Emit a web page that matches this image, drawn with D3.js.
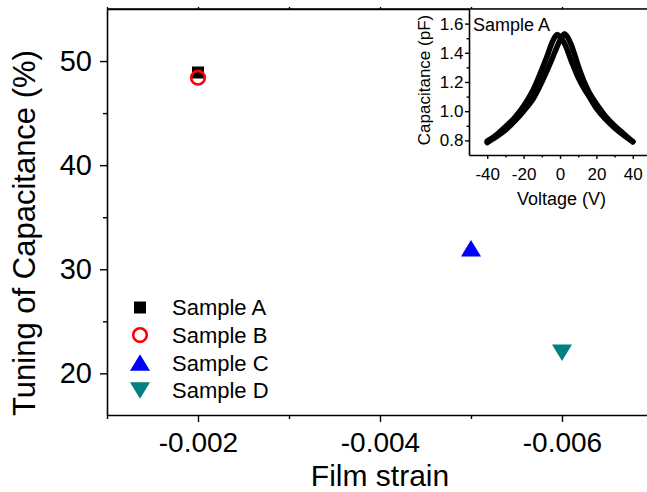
<!DOCTYPE html>
<html>
<head>
<meta charset="utf-8">
<script src="https://cdn.jsdelivr.net/npm/d3@7"></script>
<style>
  html, body { margin: 0; padding: 0; background: #ffffff; }
  svg { display: block; font-family: "Liberation Sans", Arial, sans-serif; }
</style>
</head>
<body>
<svg id="chart" width="647" height="492"></svg>
<script>
// ---- main data: tuning of capacitance vs film strain ----
const samples = ["Sample A", "Sample B", "Sample C", "Sample D"];
const strain  = [-0.002, -0.002, -0.005, -0.006];
const tuning  = [48.9, 48.4, 32.0, 22.0];
const colors  = ["#000000", "#ff0000", "#0000ff", "#008080"];
const shapes  = ["square", "circle", "triangleUp", "triangleDown"];

const strainTicks = [-0.002, -0.004, -0.006];
const strainMinor = [-0.001, -0.003, -0.005, -0.007];
const tuningTicks = [20, 30, 40, 50];
const tuningMinor = [25, 35, 45];

// ---- inset data: C-V sweeps of Sample A ----
const sweepUpV = [-40, -35, -30, -25, -20, -15, -10, -7, -5, -3, -1.5, 0, 2, 4, 6, 8, 10, 13, 16, 20, 25, 30, 35, 40];
const sweepUpC = [0.795, 0.838, 0.893, 0.955, 1.035, 1.14, 1.285, 1.38, 1.45, 1.505, 1.525, 1.51, 1.475, 1.42, 1.35, 1.29, 1.23, 1.16, 1.10, 1.02, 0.945, 0.885, 0.835, 0.792];
const sweepDnV = [-40, -35, -30, -25, -20, -15, -10, -6, -3, -1, 1, 2.5, 4, 6, 8, 10, 13, 16, 20, 25, 30, 35, 40];
const sweepDnC = [0.785, 0.825, 0.87, 0.93, 1.0, 1.08, 1.2, 1.31, 1.40, 1.46, 1.51, 1.53, 1.51, 1.46, 1.39, 1.31, 1.21, 1.13, 1.05, 0.965, 0.90, 0.845, 0.79];
const voltTicks = [-40, -20, 0, 20, 40];
const voltMinor = [-30, -10, 10, 30];
const capTicks  = [0.8, 1.0, 1.2, 1.4, 1.6];
const capMinor  = [0.9, 1.1, 1.3, 1.5];

const svg = d3.select("#chart");

// ---- main plot geometry ----
const L = 107, T = 9, R = 653, B = 415;
const x = d3.scaleLinear().domain([-0.001, -0.007]).range([L, R]);
const y = d3.scaleLinear().domain([16, 55]).range([B, T]);

function styleAxis(g, fontSize) {
  g.selectAll(".domain").attr("stroke", "#000").attr("stroke-width", 1.6);
  g.selectAll(".tick line").attr("stroke", "#000").attr("stroke-width", 1.4);
  g.selectAll("text").attr("fill", "#000").style("font-size", fontSize + "px")
    .style("font-family", "'Liberation Sans', Arial, sans-serif");
}

// bottom axis
const xAxisG = svg.append("g").attr("transform", `translate(0,${B})`)
  .call(d3.axisBottom(x).tickValues(strainTicks).tickSize(7).tickSizeOuter(0)
    .tickPadding(10).tickFormat(d => d.toFixed(3)));
styleAxis(xAxisG, 28);
const xMinorG = svg.append("g").attr("transform", `translate(0,${B})`)
  .call(d3.axisBottom(x).tickValues(strainMinor).tickSize(4).tickSizeOuter(0).tickFormat(""));
styleAxis(xMinorG, 28);
xMinorG.select(".domain").remove();

// top border with small outward ticks
const xTopG = svg.append("g").attr("transform", `translate(0,${T})`)
  .call(d3.axisTop(x).tickValues(strainTicks.concat(strainMinor)).tickSize(2).tickSizeOuter(0).tickFormat(""));
styleAxis(xTopG, 28);

// left axis
const yAxisG = svg.append("g").attr("transform", `translate(${L},0)`)
  .call(d3.axisLeft(y).tickValues(tuningTicks).tickSize(7).tickSizeOuter(0)
    .tickPadding(8).tickFormat(d3.format("d")));
styleAxis(yAxisG, 29);
const yMinorG = svg.append("g").attr("transform", `translate(${L},0)`)
  .call(d3.axisLeft(y).tickValues(tuningMinor).tickSize(4).tickSizeOuter(0).tickFormat(""));
styleAxis(yMinorG, 29);
yMinorG.select(".domain").remove();

// axis titles
svg.append("text")
  .attr("x", (L + R) / 2).attr("y", 485.5)
  .attr("text-anchor", "middle")
  .style("font-size", "30px").attr("fill", "#000")
  .text("Film strain");
svg.append("text")
  .attr("transform", "translate(35,233) rotate(-90)")
  .attr("text-anchor", "middle")
  .style("font-size", "31px").attr("fill", "#000")
  .text("Tuning of Capacitance (%)");

// ---- marker shapes ----
function markerPath(shape) {
  if (shape === "square") return "M-6,-6H6V6H-6Z";
  if (shape === "triangleUp") return "M0,-8.5L10,8L-10,8Z";
  if (shape === "triangleDown") return "M0,8.5L10,-8L-10,-8Z";
  return null;
}
function drawMarker(g, shape, color) {
  if (shape === "circle") {
    g.append("circle").attr("r", 6.8).attr("fill", "none")
      .attr("stroke", color).attr("stroke-width", 2.6);
  } else {
    g.append("path").attr("d", markerPath(shape)).attr("fill", color);
  }
}

// data points
samples.forEach((s, i) => {
  const g = svg.append("g").attr("transform", `translate(${x(strain[i])},${y(tuning[i])})`);
  drawMarker(g, shapes[i], colors[i]);
});

// legend
const legendX = 140, legendY = 307.5, legendStep = 27.6;
samples.forEach((s, i) => {
  const g = svg.append("g").attr("transform", `translate(${legendX},${legendY + i * legendStep})`);
  drawMarker(g, shapes[i], colors[i]);
  g.append("text").attr("x", 32).attr("dy", "0.36em")
    .style("font-size", "22px").attr("fill", "#000").text(s);
});

// ---- inset: C-V curve ----
const iL = 469, iT = 9, iR = 651, iB = 155;
const xi = d3.scaleLinear().domain([-50, 50]).range([iL, iR]);
const yi = d3.scaleLinear().domain([0.7, 1.7]).range([iB, iT]);

svg.append("rect").attr("x", iL).attr("y", iT).attr("width", iR - iL).attr("height", iB - iT)
  .attr("fill", "#fff");

const line = d3.line().x(d => xi(d[0])).y(d => yi(d[1])).curve(d3.curveCatmullRom.alpha(0.5));
const inset = svg.append("g");
[[sweepUpV, sweepUpC], [sweepDnV, sweepDnC]].forEach(([vs, cs]) => {
  inset.append("path")
    .attr("d", line(vs.map((v, k) => [v, cs[k]])))
    .attr("fill", "none").attr("stroke", "#000")
    .attr("stroke-width", 5.5).attr("stroke-linecap", "round").attr("stroke-linejoin", "round");
});

const xiAxisG = svg.append("g").attr("transform", `translate(0,${iB})`)
  .call(d3.axisBottom(xi).tickValues(voltTicks).tickSize(4).tickSizeOuter(0)
    .tickPadding(9).tickFormat(d => String(d)));
styleAxis(xiAxisG, 17);
const xiMinorG = svg.append("g").attr("transform", `translate(0,${iB})`)
  .call(d3.axisBottom(xi).tickValues(voltMinor).tickSize(2.5).tickSizeOuter(0).tickFormat(""));
styleAxis(xiMinorG, 17);
xiMinorG.select(".domain").remove();

const yiAxisG = svg.append("g").attr("transform", `translate(${iL},0)`)
  .call(d3.axisLeft(yi).tickValues(capTicks).tickSize(4).tickSizeOuter(0)
    .tickPadding(1.5).tickFormat(d => d.toFixed(1)));
styleAxis(yiAxisG, 17);
const yiMinorG = svg.append("g").attr("transform", `translate(${iL},0)`)
  .call(d3.axisLeft(yi).tickValues(capMinor).tickSize(2.5).tickSizeOuter(0).tickFormat(""));
styleAxis(yiMinorG, 17);
yiMinorG.select(".domain").remove();

// inset titles
svg.append("text")
  .attr("x", 561.5).attr("y", 205)
  .attr("text-anchor", "middle")
  .style("font-size", "18px").attr("fill", "#000")
  .text("Voltage (V)");
svg.append("text")
  .attr("transform", "translate(430,80) rotate(-90)")
  .attr("text-anchor", "middle")
  .style("font-size", "17px").attr("fill", "#000")
  .text("Capacitance (pF)");
svg.append("text")
  .attr("x", 473).attr("y", 31)
  .style("font-size", "18px").attr("fill", "#000")
  .text("Sample A");

// main top border line drawn last so it sits over the inset
svg.append("line").attr("x1", L).attr("x2", R).attr("y1", T).attr("y2", T)
  .attr("stroke", "#000").attr("stroke-width", 1.6);
</script>
</body>
</html>
